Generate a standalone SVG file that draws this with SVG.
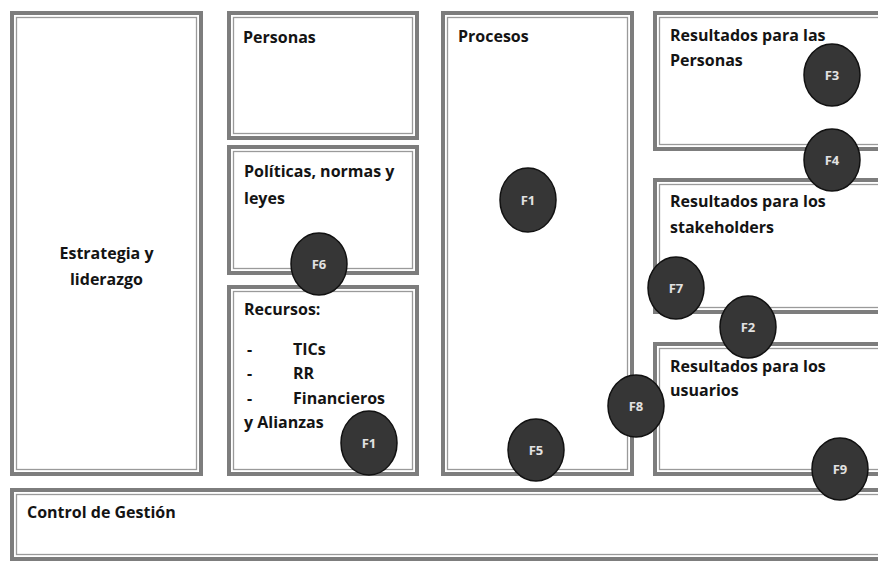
<svg xmlns="http://www.w3.org/2000/svg" width="878" height="561" viewBox="0 0 878 561">
<style>
.outer{fill:#ffffff;stroke:#7d7d7d;stroke-width:4}
.inner{fill:none;stroke:#9a9a9a;stroke-width:1.3}
.t{font-family:"Open Sans","Liberation Sans",Arial,sans-serif;font-weight:700;font-size:16px;fill:#141414}
.c{fill:#363636;stroke:#111;stroke-width:1.5}
.ct{font-family:"Open Sans","Liberation Sans",Arial,sans-serif;font-weight:700;font-size:13px;fill:#e2e2e2;text-anchor:middle}
</style>
<rect x="0" y="0" width="878" height="561" fill="#ffffff"/>
<g id="estrategia">
<rect class="outer" x="12" y="13" width="189" height="461"/>
<rect class="inner" x="16.5" y="17.5" width="180" height="452"/>
<text class="t" x="106.5" y="259" text-anchor="middle">Estrategia y</text>
<text class="t" x="106.5" y="285" text-anchor="middle">liderazgo</text>
</g>
<g id="personas">
<rect class="outer" x="229" y="13" width="188" height="125"/>
<rect class="inner" x="233.5" y="17.5" width="179" height="116"/>
<text class="t" x="243" y="43">Personas</text>
</g>
<g id="politicas">
<rect class="outer" x="229" y="147" width="188" height="126"/>
<rect class="inner" x="233.5" y="151.5" width="179" height="117"/>
<text class="t" x="244" y="177">Políticas, normas y</text>
<text class="t" x="244" y="204">leyes</text>
</g>
<g id="recursos">
<rect class="outer" x="229" y="287" width="188" height="187"/>
<rect class="inner" x="233.5" y="291.5" width="179" height="178"/>
<text class="t" x="244" y="315">Recursos:</text>
<text class="t" x="247" y="355">-</text>
<text class="t" x="293" y="355">TICs</text>
<text class="t" x="247" y="379">-</text>
<text class="t" x="293" y="379">RR</text>
<text class="t" x="247" y="404">-</text>
<text class="t" x="293" y="404">Financieros</text>
<text class="t" x="244" y="428">y Alianzas</text>
</g>
<g id="procesos">
<rect class="outer" x="443" y="13" width="189" height="461"/>
<rect class="inner" x="447.5" y="17.5" width="180" height="452"/>
<text class="t" x="458" y="42">Procesos</text>
</g>
<g id="res-personas">
<rect class="outer" x="655" y="13" width="240" height="136"/>
<rect class="inner" x="659.5" y="17.5" width="240" height="127"/>
<text class="t" x="670" y="41">Resultados para las</text>
<text class="t" x="670" y="66">Personas</text>
</g>
<g id="res-stakeholders">
<rect class="outer" x="655" y="180" width="240" height="132"/>
<rect class="inner" x="659.5" y="184.5" width="240" height="123"/>
<text class="t" x="670" y="207">Resultados para los</text>
<text class="t" x="670" y="233">stakeholders</text>
</g>
<g id="res-usuarios">
<rect class="outer" x="655" y="344" width="240" height="130"/>
<rect class="inner" x="659.5" y="348.5" width="240" height="121"/>
<text class="t" x="670" y="372">Resultados para los</text>
<text class="t" x="670" y="396">usuarios</text>
</g>
<g id="control">
<rect class="outer" x="12" y="490" width="890" height="69"/>
<rect class="inner" x="16.5" y="494.5" width="890" height="60"/>
<text class="t" x="27" y="518">Control de Gestión</text>
</g>
<g id="connectors"></g>
<g id="f6"><ellipse class="c" cx="319" cy="264" rx="28" ry="31"/><text class="ct" x="319" y="269">F6</text></g>
<g id="f1-recursos"><ellipse class="c" cx="369" cy="443" rx="28" ry="32"/><text class="ct" x="369" y="448">F1</text></g>
<g id="f1-procesos"><ellipse class="c" cx="528" cy="200" rx="28" ry="32"/><text class="ct" x="528" y="205">F1</text></g>
<g id="f5"><ellipse class="c" cx="536" cy="450" rx="28" ry="31"/><text class="ct" x="536" y="455">F5</text></g>
<g id="f3"><ellipse class="c" cx="832" cy="75" rx="28" ry="31"/><text class="ct" x="832" y="80">F3</text></g>
<g id="f4"><ellipse class="c" cx="832" cy="160" rx="28" ry="31"/><text class="ct" x="832" y="165">F4</text></g>
<g id="f7"><ellipse class="c" cx="676" cy="288" rx="28" ry="31"/><text class="ct" x="676" y="293">F7</text></g>
<g id="f2"><ellipse class="c" cx="748" cy="327" rx="28" ry="31"/><text class="ct" x="748" y="332">F2</text></g>
<g id="f8"><ellipse class="c" cx="636" cy="406" rx="28" ry="31"/><text class="ct" x="636" y="411">F8</text></g>
<g id="f9"><ellipse class="c" cx="840" cy="469" rx="28" ry="31"/><text class="ct" x="840" y="474">F9</text></g>
</svg>
